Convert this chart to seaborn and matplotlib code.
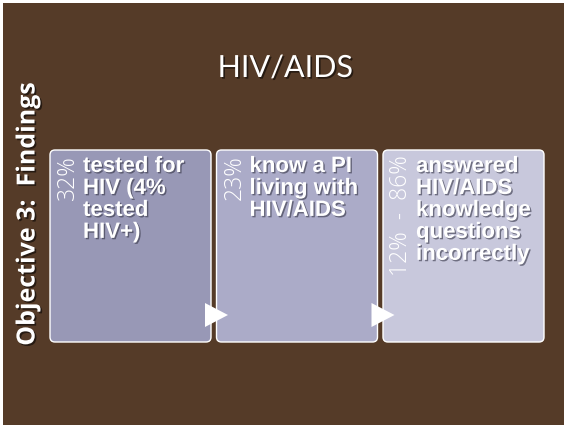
import matplotlib
matplotlib.use("Agg")
import matplotlib.pyplot as plt
import matplotlib.patheffects as pe
from matplotlib.patches import FancyBboxPatch, Polygon, Rectangle
import seaborn as sns

# ------------------------------------------------------------------
# DATA
# ------------------------------------------------------------------
title = "HIV/AIDS"
side_label = "Objective 3:  Findings"
percents = ["32%", "23%", "12% - 86%"]
findings = ["tested for\nHIV (4%\ntested\nHIV+)",
            "know a PI\nliving with\nHIV/AIDS",
            "answered\nHIV/AIDS\nknowledge\nquestions\nincorrectly"]

# ------------------------------------------------------------------
# STYLE
# ------------------------------------------------------------------
sns.set_theme(style="white")
BG = "#553b28"
BOX_COLORS = ["#9898b6", "#ababc8", "#c8c8dc"]
W, H = 564, 425
BOX_W, BOX_GAP, BOX_X0 = 161, 5.5, 50
BOX_TOP, BOX_BOT = 150, 342

fig = plt.figure(figsize=(W / 100, H / 100), dpi=100)
fig.patch.set_facecolor("white")
ax = fig.add_axes([0, 0, 1, 1])
ax.set_xlim(0, W)
ax.set_ylim(H, 0)
ax.axis("off")

# background with thin white frame on top/left
ax.add_patch(Rectangle((3, 3), W, H, facecolor=BG, edgecolor="none"))

shadow = [pe.SimplePatchShadow(offset=(1.2, -1.2), shadow_rgbFace="black", alpha=0.55),
          pe.Normal()]

ax.text(285, 68, title, color="white", fontsize=22, family=["Lato", "DejaVu Sans"],
        ha="center", va="center", path_effects=shadow)

ax.text(28, 214, side_label, color="white", fontsize=18, fontweight="bold",
        family=["Open Sans", "DejaVu Sans"], rotation=90, ha="center", va="center",
        path_effects=shadow)

for i, (pct, txt) in enumerate(zip(percents, findings)):
    x0 = BOX_X0 + i * (BOX_W + BOX_GAP)
    ax.add_patch(FancyBboxPatch((x0 + 5, BOX_TOP + 5), BOX_W - 10, BOX_BOT - BOX_TOP - 10,
                                boxstyle="round,pad=5", facecolor=BOX_COLORS[i],
                                edgecolor="white", linewidth=1.0, zorder=2))
    ax.text(x0 + 18, BOX_TOP + 5, pct.replace(" - ", "  -  "), color="white",
            fontsize=16.5, fontweight="light", family=["Open Sans", "DejaVu Sans"],
            rotation=90, ha="center", va="top", zorder=4)
    ax.text(x0 + 33, BOX_TOP + 6, txt, color="white", fontsize=16,
            fontweight="bold", family=["Liberation Sans", "DejaVu Sans"],
            ha="left", va="top", linespacing=1.06, zorder=4,
            path_effects=[pe.SimplePatchShadow(offset=(1, -1), shadow_rgbFace="#333344",
                                               alpha=0.6), pe.Normal()])
    if i < len(percents) - 1:
        xr = x0 + BOX_W
        ax.add_patch(Polygon([(xr - 6, 303), (xr - 6, 327), (xr + 17, 315)],
                             closed=True, facecolor="white", edgecolor="none",
                             zorder=3))

plt.savefig("out.png", dpi=100, facecolor=fig.get_facecolor())
plt.close()
